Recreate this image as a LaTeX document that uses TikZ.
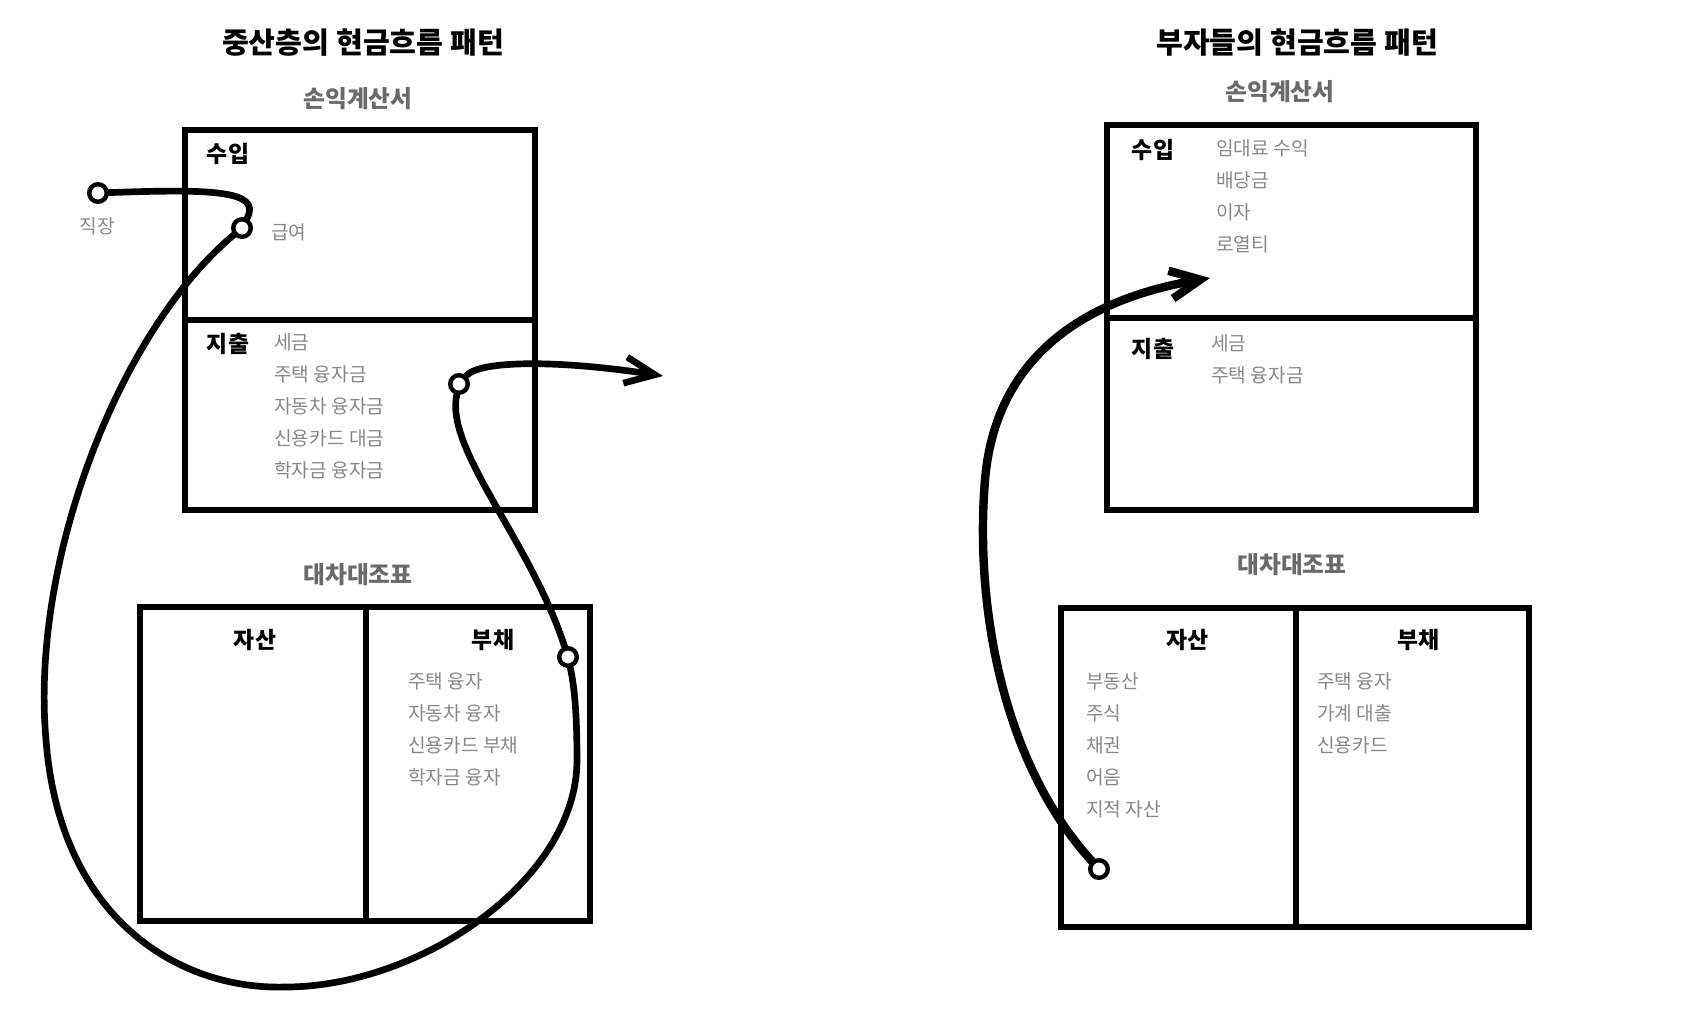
\documentclass[tikz,border=0pt]{standalone}
\usepackage{fontspec}
\setmainfont{Noto Sans CJK KR}
\usetikzlibrary{arrows.meta}

\definecolor{itemgray}{HTML}{888888}
\definecolor{sheetgray}{HTML}{6A6A6A}

\tikzset{
  title/.style={font=\bfseries\fontsize{16.6}{19}\selectfont, inner sep=0pt},
  sheet/.style={font=\bfseries\fontsize{13.5}{16}\selectfont, text=sheetgray, inner sep=0pt},
  head/.style={font=\bfseries\fontsize{13}{15}\selectfont, inner sep=0pt},
  item/.style={font=\fontsize{10.9}{13}\selectfont, text=itemgray, anchor=west, inner sep=0pt},
  box/.style={line width=3pt},
  dot/.style={circle, draw, fill=white, line width=2.5pt, minimum size=10pt, inner sep=0pt},
  flow/.style={line width=3.8pt, line cap=round},
  bigflow/.style={line width=4.8pt, line cap=round}
}

\begin{document}
\begin{tikzpicture}[x=0.02cm, y=-0.02cm]

\useasboundingbox (0,0) rectangle (1684,1032);

\node[title] (lefttitle) at (363,43) {중산층의 현금흐름 패턴};
\node[title] (righttitle) at (1297,43) {부자들의 현금흐름 패턴};

% middle class
\node[sheet] (lincome) at (358,99) {손익계산서};
\draw[box] (185,130) rectangle (535,510);
\draw[box] (185,320) -- (535,320);
\node[head] (lin) at (228,154) {수입};
\node[head] (lout) at (228,344) {지출};

\foreach \txt [count=\i] in {세금, 주택 융자금, 자동차 융자금, 신용카드 대금, 학자금 융자금}
\node[item] (lexp\i) at (274,310+32*\i) {\txt};

\node[sheet] (lbalance) at (358,575) {대차대조표};
\draw[box] (140,607) rectangle (590,921);
\draw[box] (366,607) -- (366,921);
\node[head] (lasset) at (255,640) {자산};
\node[head] (ldebt) at (493,640) {부채};

\foreach \txt [count=\i] in {주택 융자, 자동차 융자, 신용카드 부채, 학자금 융자}
\node[item] (ldbt\i) at (408,649+32*\i) {\txt};

\node[dot] (jobdot) at (98,193) {};
\node[item, anchor=center] (joblbl) at (97,226) {직장};
\node[dot] (saldot) at (242,228) {};
\node[item] (sallbl) at (271,232) {급여};
\node[dot] (debtdot) at (568,657) {};
\node[dot] (expdot) at (459,384) {};
\coordinate (outflow) at (663,376);

\draw[flow] (jobdot) .. controls (210,189) and (262,190) .. (saldot);
\draw[flow] (saldot) .. controls (120,330) and (30,560) .. (46,740)
  .. controls (60,920) and (180,990) .. (285,987)
  .. controls (420,987) and (577,880) .. (577,760)
  .. controls (577,710) and (574,685) .. (debtdot);
\draw[flow] (debtdot) .. controls (530,540) and (445,450) .. (expdot);
\draw[flow, -{Straight Barb[length=17pt,width=15pt]}] (expdot) .. controls (480,360) and (560,360) .. (outflow);

% rich
\node[sheet] (rincome) at (1280,92) {손익계산서};
\draw[box] (1107,125) rectangle (1476,510);
\draw[box] (1107,318) -- (1476,318);
\node[head] (rin) at (1153,150) {수입};
\node[head] (rout) at (1153,349) {지출};

\foreach \txt [count=\i] in {임대료 수익, 배당금, 이자, 로열티}
\node[item] (rinc\i) at (1216,116+32*\i) {\txt};

\foreach \txt [count=\i] in {세금, 주택 융자금}
\node[item] (rexp\i) at (1211,311+32*\i) {\txt};

\node[sheet] (rbalance) at (1292,565) {대차대조표};
\draw[box] (1061,608) rectangle (1529,927);
\draw[box] (1296,608) -- (1296,927);
\node[head] (rasset) at (1187,640) {자산};
\node[head] (rdebt) at (1418,640) {부채};

\foreach \txt [count=\i] in {부동산, 주식, 채권, 어음, 지적 자산}
\node[item] (rast\i) at (1086,649+32*\i) {\txt};

\foreach \txt [count=\i] in {주택 융자, 가계 대출, 신용카드}
\node[item] (rdbt\i) at (1317,649+32*\i) {\txt};

\node[dot] (assetdot) at (1099,869) {};
\coordinate (inflow) at (1210,278);

\draw[bigflow, -{Straight Barb[length=17pt,width=16pt]}] (assetdot) .. controls (1000,760) and (975,600) .. (985,480)
  .. controls (995,360) and (1080,300) .. (inflow);

\end{tikzpicture}
\end{document}
